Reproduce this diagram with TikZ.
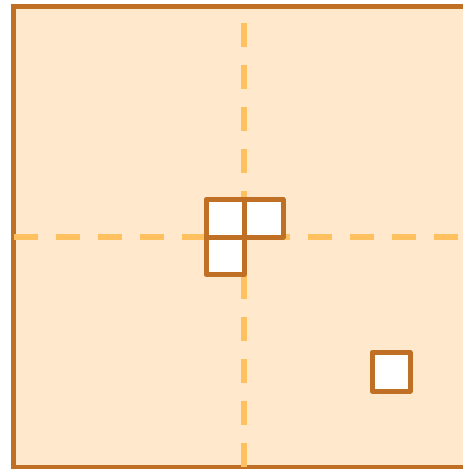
\documentclass[tikz,border=0pt]{standalone}
\definecolor{bg}{RGB}{255,232,204}
\definecolor{edge}{RGB}{192,112,36}
\definecolor{guide}{RGB}{255,192,96}
\begin{document}
\begin{tikzpicture}[x=1pt,y=-1pt,
  cellbox/.style={draw=edge,fill=white,line width=5pt,line join=round},
  guideline/.style={draw=guide,line width=6pt,dash pattern=on 24pt off 18pt},
  frame/.style={draw=edge,fill=bg,line width=5pt}]
\useasboundingbox (0,0) rectangle (463,469);
\begin{scope}
\clip (0,0) rectangle (463,469);
\path[frame] (13.5,6.5) rectangle (473.5,467);
\coordinate (vb) at (244,467);
\coordinate (vt) at (244,6.5);
\coordinate (hl) at (13.5,237);
\coordinate (hr) at (473.5,237);
\draw[guideline] (vb) -- (vt);
\draw[guideline] (hl) -- (hr);
\path[cellbox] (206,199.5) rectangle (244,237);
\path[cellbox] (244,199.5) rectangle (283,237);
\path[cellbox] (206,237) rectangle (244,274.5);
\path[cellbox] (372,352.5) rectangle (410,391);
\end{scope}
\end{tikzpicture}
\end{document}
